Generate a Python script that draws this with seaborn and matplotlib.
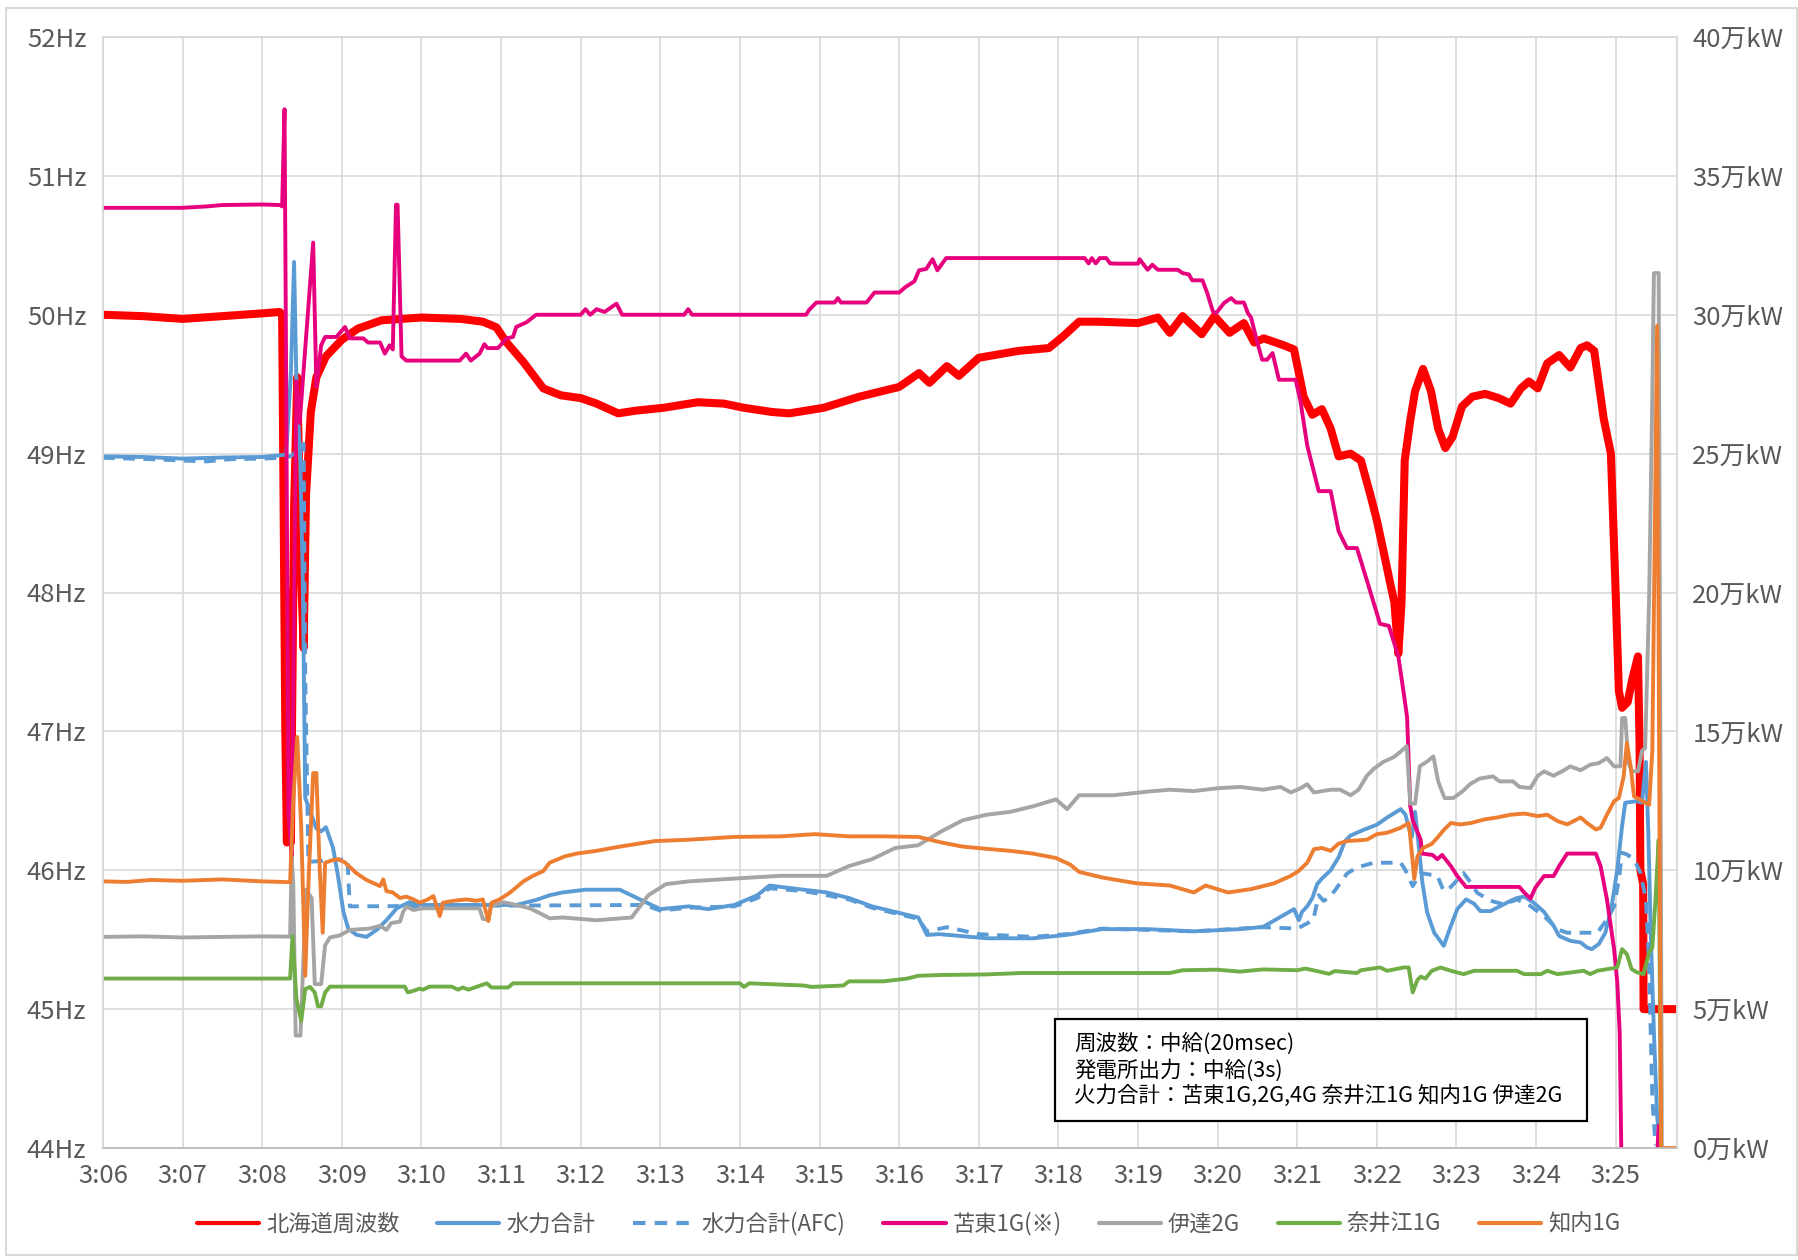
import matplotlib
matplotlib.use("Agg")
import matplotlib.pyplot as plt
import pandas as pd
import seaborn as sns
from matplotlib.patches import Rectangle

# time in minutes after 3:06, value in Hz (frequency) or 万kW (plant output)
freq = [(0, 50.0), (0.5, 49.99), (1.0, 49.97), (1.5, 49.99), (2.0, 50.01), (2.22, 50.02),
        (2.25, 50.0), (2.265, 48.9), (2.29, 47.0), (2.31, 46.2), (2.33, 48.0), (2.36, 46.2),
        (2.40, 48.6), (2.44, 49.55), (2.49, 48.1), (2.52, 47.6), (2.55, 48.7), (2.61, 49.3),
        (2.68, 49.55), (2.8, 49.7), (3.0, 49.82), (3.2, 49.9), (3.5, 49.96), (4.0, 49.98),
        (4.5, 49.97), (4.77, 49.95), (4.94, 49.91), (5.07, 49.8), (5.28, 49.66), (5.53, 49.47),
        (5.75, 49.42), (6.0, 49.4), (6.2, 49.36), (6.47, 49.29), (6.7, 49.31), (7.04, 49.33),
        (7.47, 49.37), (7.8, 49.36), (8.05, 49.33), (8.4, 49.3), (8.62, 49.29), (9.05, 49.33),
        (9.5, 49.41), (10.0, 49.48), (10.25, 49.58), (10.38, 49.51), (10.6, 49.63), (10.75, 49.56),
        (11.0, 49.69), (11.5, 49.74), (11.88, 49.76), (12.05, 49.84), (12.26, 49.95), (12.5, 49.95),
        (13.0, 49.94), (13.25, 49.98), (13.4, 49.87), (13.56, 49.99), (13.8, 49.86), (13.96, 49.99),
        (14.15, 49.87), (14.33, 49.94), (14.46, 49.8), (14.58, 49.83), (14.83, 49.78), (14.96, 49.75),
        (15.08, 49.41), (15.19, 49.28), (15.31, 49.32), (15.42, 49.18), (15.52, 48.98), (15.67, 49.0),
        (15.8, 48.95), (15.92, 48.7), (16.0, 48.52), (16.09, 48.28), (16.17, 48.06), (16.22, 47.93),
        (16.27, 47.56), (16.31, 47.93), (16.35, 48.95), (16.42, 49.24), (16.48, 49.45), (16.58, 49.61),
        (16.68, 49.45), (16.77, 49.18), (16.86, 49.04), (16.95, 49.12), (17.07, 49.34), (17.2, 49.41),
        (17.36, 49.43), (17.53, 49.4), (17.68, 49.36), (17.81, 49.47), (17.91, 49.52), (18.02, 49.47),
        (18.14, 49.65), (18.29, 49.71), (18.43, 49.62), (18.56, 49.76), (18.64, 49.78), (18.73, 49.74),
        (18.85, 49.25), (18.94, 49.0), (19.0, 47.99), (19.04, 47.29), (19.08, 47.17), (19.15, 47.21),
        (19.21, 47.38), (19.28, 47.54), (19.30, 46.9), (19.31, 46.0), (19.345, 45.9), (19.35, 45.0),
        (19.77, 45.0)]

hydro = [(0, 24.9), (0.5, 24.88), (1.0, 24.82), (1.5, 24.86), (2.0, 24.88), (2.25, 24.95), (2.3, 24.95),
         (2.36, 27.9), (2.40, 31.9), (2.43, 27.5), (2.475, 25.0), (2.51, 20.4), (2.54, 12.6), (2.58, 12.3),
         (2.68, 11.5), (2.74, 11.4), (2.8, 11.55), (2.89, 10.8), (2.95, 9.82), (3.02, 8.5), (3.08, 7.9),
         (3.18, 7.68), (3.31, 7.6), (3.44, 7.86), (3.56, 8.2), (3.69, 8.63), (3.85, 8.85), (4.02, 8.75),
         (5.19, 8.75), (5.44, 8.93), (5.61, 9.1), (5.77, 9.2), (6.06, 9.3), (6.49, 9.3), (6.78, 8.9),
         (7.0, 8.6), (7.36, 8.7), (7.6, 8.6), (7.93, 8.75), (8.22, 9.1), (8.37, 9.45), (8.51, 9.4),
         (8.8, 9.3), (9.09, 9.2), (9.37, 9.0), (9.66, 8.7), (9.95, 8.5), (10.24, 8.3), (10.35, 7.67),
         (10.5, 7.7), (11.1, 7.55), (11.68, 7.55), (12.1, 7.67), (12.55, 7.88), (13.12, 7.88),
         (13.7, 7.8), (14.28, 7.88), (14.57, 7.96), (14.79, 8.32), (14.96, 8.6), (15.02, 8.2),
         (15.06, 8.5), (15.125, 8.7), (15.19, 9.0), (15.25, 9.5), (15.31, 9.7), (15.42, 10.0),
         (15.52, 10.47), (15.6, 11.05), (15.67, 11.25), (15.83, 11.45), (16.0, 11.64), (16.13, 11.9),
         (16.3, 12.2), (16.36, 12.0), (16.4, 11.54), (16.44, 11.2), (16.48, 12.1), (16.52, 11.05),
         (16.57, 9.6), (16.63, 8.5), (16.72, 7.75), (16.84, 7.28), (16.93, 8.0), (17.01, 8.6),
         (17.12, 8.95), (17.22, 8.8), (17.3, 8.53), (17.43, 8.53), (17.55, 8.71), (17.68, 8.9),
         (17.76, 9.0), (17.85, 9.05), (17.97, 8.83), (18.1, 8.5), (18.22, 8.0), (18.29, 7.63),
         (18.43, 7.46), (18.56, 7.4), (18.64, 7.22), (18.7, 7.16), (18.79, 7.35), (18.87, 7.75),
         (18.95, 8.71), (19.02, 10.03), (19.08, 11.59), (19.12, 12.43), (19.27, 12.49), (19.33, 12.43),
         (19.38, 13.9), (19.41, 11.35), (19.44, 7.75), (19.48, 4.16), (19.52, 1.17), (19.56, 0.0)]

hydro_afc = [(0, 24.85), (0.6, 24.8), (1.0, 24.75), (1.3, 24.72), (1.6, 24.8), (2.0, 24.82),
             (2.25, 24.85), (2.35, 24.9), (2.45, 25.1), (2.52, 25.35), (2.54, 17.0), (2.57, 12.0),
             (2.58, 10.3), (3.07, 10.4), (3.1, 8.7), (6.8, 8.75), (7.0, 8.55), (7.36, 8.65),
             (7.93, 8.7), (8.22, 9.0), (8.37, 9.35), (8.8, 9.25), (9.09, 9.1), (9.37, 8.95),
             (9.66, 8.65), (9.95, 8.45), (10.24, 8.25), (10.35, 7.8), (10.6, 7.95), (11.0, 7.7),
             (11.68, 7.6), (12.1, 7.7), (12.55, 7.9), (13.12, 7.85), (13.7, 7.8), (14.28, 7.9),
             (14.57, 7.95), (15.0, 7.9), (15.2, 8.2), (15.27, 9.1), (15.33, 8.9), (15.4, 9.0),
             (15.48, 9.3), (15.625, 9.88), (15.75, 10.1), (15.96, 10.27), (16.3, 10.27), (16.36, 10.0),
             (16.45, 9.43), (16.55, 9.9), (16.76, 9.8), (16.84, 9.25), (16.93, 9.4), (17.09, 9.9),
             (17.18, 9.55), (17.26, 9.19), (17.43, 8.9), (17.6, 8.77), (17.76, 8.95), (17.93, 8.71),
             (18.1, 8.35), (18.27, 7.87), (18.39, 7.75), (18.77, 7.75), (18.89, 8.23), (18.98, 8.7),
             (19.04, 9.67), (19.08, 10.63), (19.14, 10.57), (19.23, 10.4), (19.31, 9.91), (19.38, 8.95),
             (19.42, 6.56), (19.44, 4.16), (19.46, 1.77), (19.5, 0.1)]

tomato1 = [(0, 33.85), (1.0, 33.85), (1.3, 33.9), (1.5, 33.95), (2.0, 33.97), (2.22, 33.95),
           (2.25, 33.9), (2.28, 37.4), (2.30, 28.0), (2.33, 12.0), (2.37, 10.5), (2.40, 20.0),
           (2.43, 27.6), (2.47, 26.1), (2.64, 32.6), (2.68, 27.4), (2.74, 28.9), (2.79, 29.2),
           (2.93, 29.2), (3.04, 29.56), (3.1, 29.15), (3.27, 29.15), (3.33, 29.0), (3.48, 29.0),
           (3.54, 28.6), (3.6, 28.9), (3.64, 28.75), (3.68, 33.96), (3.7, 33.96), (3.75, 28.5),
           (3.81, 28.35), (4.48, 28.35), (4.56, 28.6), (4.62, 28.35), (4.73, 28.6), (4.79, 28.94),
           (4.83, 28.8), (4.96, 28.8), (5.07, 29.15), (5.15, 29.2), (5.19, 29.56), (5.32, 29.73),
           (5.44, 30.0), (6.0, 30.0), (6.06, 30.2), (6.12, 30.0), (6.2, 30.2), (6.3, 30.1),
           (6.45, 30.4), (6.52, 30.0), (7.3, 30.0), (7.35, 30.2), (7.4, 30.0), (8.83, 30.0),
           (8.87, 30.18), (8.96, 30.44), (9.19, 30.44), (9.23, 30.6), (9.27, 30.44), (9.59, 30.44),
           (9.69, 30.8), (10.0, 30.8), (10.08, 31.0), (10.19, 31.2), (10.25, 31.6), (10.34, 31.65),
           (10.42, 32.0), (10.48, 31.6), (10.59, 32.04), (12.33, 32.04), (12.38, 31.85), (12.42, 32.04),
           (12.47, 31.85), (12.52, 32.04), (12.6, 32.04), (12.65, 31.85), (12.72, 31.84), (13.0, 31.84),
           (13.02, 32.0), (13.12, 31.62), (13.18, 31.8), (13.25, 31.62), (13.5, 31.62), (13.56, 31.5),
           (13.64, 31.45), (13.68, 31.24), (13.81, 31.24), (13.87, 30.78), (13.94, 30.12), (13.98, 30.05),
           (14.08, 30.42), (14.17, 30.6), (14.23, 30.44), (14.33, 30.44), (14.38, 30.06), (14.42, 29.9),
           (14.5, 28.98), (14.56, 28.38), (14.62, 28.38), (14.69, 28.62), (14.77, 27.66), (14.98, 27.66),
           (15.04, 26.9), (15.125, 25.3), (15.27, 23.65), (15.42, 23.65), (15.52, 22.2), (15.625, 21.6),
           (15.75, 21.6), (15.9, 20.2), (16.04, 18.87), (16.15, 18.8), (16.27, 17.7), (16.35, 16.13),
           (16.38, 15.5), (16.42, 12.3), (16.45, 11.8), (16.55, 11.1), (16.57, 10.6), (16.7, 10.55),
           (16.76, 10.4), (16.82, 10.55), (16.93, 10.15), (17.01, 9.79), (17.12, 9.4), (17.79, 9.4),
           (17.85, 9.2), (17.93, 8.98), (17.99, 9.37), (18.1, 9.79), (18.22, 9.79), (18.29, 10.15),
           (18.39, 10.6), (18.75, 10.6), (18.81, 10.15), (18.89, 8.95), (18.98, 7.16), (19.02, 5.96),
           (19.05, 4.16), (19.07, 0.0), (19.09, -3.0), (19.47, -3.0), (19.54, 0.8), (19.57, -3.0)]

date2 = [(0, 7.6), (0.5, 7.62), (1.0, 7.58), (1.5, 7.6), (2.0, 7.62), (2.35, 7.61), (2.37, 10.5),
         (2.39, 9.5), (2.42, 4.05), (2.48, 4.05), (2.52, 7.0), (2.55, 9.3), (2.62, 9.0), (2.66, 5.9),
         (2.74, 5.9), (2.79, 7.3), (2.85, 7.58), (2.97, 7.65), (3.1, 7.85), (3.35, 7.9), (3.48, 8.0),
         (3.56, 7.85), (3.62, 8.1), (3.73, 8.15), (3.77, 8.5), (3.81, 8.69), (3.9, 8.57), (4.02, 8.63),
         (4.73, 8.63), (4.77, 8.25), (4.84, 8.22), (4.87, 8.7), (5.03, 8.85), (5.19, 8.75), (5.36, 8.63),
         (5.49, 8.45), (5.61, 8.27), (5.77, 8.3), (6.2, 8.2), (6.64, 8.3), (6.85, 9.1), (7.07, 9.5),
         (7.36, 9.6), (7.93, 9.7), (8.51, 9.8), (9.09, 9.8), (9.37, 10.15), (9.66, 10.4), (9.95, 10.8),
         (10.24, 10.9), (10.53, 11.4), (10.8, 11.8), (11.1, 12.0), (11.39, 12.1), (11.68, 12.3),
         (11.97, 12.55), (12.11, 12.2), (12.26, 12.7), (12.69, 12.7), (13.12, 12.83), (13.4, 12.9),
         (13.7, 12.85), (13.99, 12.95), (14.28, 13.0), (14.57, 12.9), (14.79, 13.0), (14.92, 12.8),
         (15.04, 12.95), (15.125, 13.1), (15.21, 12.8), (15.42, 12.9), (15.54, 12.9), (15.67, 12.7),
         (15.77, 12.9), (15.875, 13.4), (15.96, 13.65), (16.08, 13.9), (16.21, 14.07), (16.29, 14.25),
         (16.375, 14.47), (16.42, 12.4), (16.48, 12.4), (16.54, 13.75), (16.625, 13.9), (16.71, 14.1),
         (16.77, 13.2), (16.85, 12.6), (16.96, 12.6), (17.08, 12.85), (17.17, 13.1), (17.29, 13.3),
         (17.46, 13.38), (17.54, 13.2), (17.71, 13.2), (17.79, 13.0), (17.93, 12.96), (18.02, 13.4),
         (18.1, 13.56), (18.22, 13.4), (18.35, 13.6), (18.43, 13.74), (18.56, 13.6), (18.68, 13.8),
         (18.79, 13.86), (18.89, 14.04), (18.98, 13.74), (19.06, 13.74), (19.08, 15.48), (19.12, 15.48),
         (19.16, 13.9), (19.2, 13.56), (19.28, 13.56), (19.33, 14.3), (19.37, 14.4), (19.42, 19.8),
         (19.46, 27.1), (19.48, 31.5), (19.54, 31.5), (19.56, 15.6), (19.58, 0.0)]

naie1 = [(0, 6.1), (2.35, 6.1), (2.38, 7.63), (2.43, 5.36), (2.49, 4.58), (2.54, 5.72), (2.6, 5.8),
         (2.66, 5.6), (2.7, 5.1), (2.74, 5.1), (2.79, 5.6), (2.85, 5.81), (3.79, 5.81), (3.83, 5.6),
         (3.9, 5.66), (3.98, 5.74), (4.02, 5.7), (4.1, 5.81), (4.38, 5.81), (4.46, 5.7), (4.52, 5.78),
         (4.59, 5.7), (4.73, 5.84), (4.82, 5.93), (4.88, 5.78), (5.09, 5.78), (5.15, 5.93), (8.0, 5.93),
         (8.05, 5.8), (8.12, 5.93), (8.8, 5.85), (8.9, 5.8), (9.3, 5.85), (9.37, 6.0), (9.8, 6.0),
         (10.1, 6.1), (10.24, 6.2), (10.53, 6.23), (11.1, 6.25), (11.53, 6.3), (13.4, 6.3), (13.56, 6.4),
         (13.99, 6.42), (14.28, 6.35), (14.57, 6.43), (15.0, 6.4), (15.1, 6.46), (15.2, 6.4),
         (15.4, 6.27), (15.47, 6.37), (15.75, 6.3), (15.8, 6.4), (16.04, 6.5), (16.13, 6.38),
         (16.34, 6.5), (16.4, 6.5), (16.45, 5.6), (16.51, 6.05), (16.55, 6.17), (16.61, 6.1),
         (16.69, 6.38), (16.8, 6.5), (16.93, 6.38), (17.09, 6.26), (17.22, 6.38), (17.76, 6.38),
         (17.85, 6.26), (18.06, 6.26), (18.14, 6.38), (18.27, 6.26), (18.6, 6.38), (18.68, 6.26),
         (18.77, 6.38), (19.02, 6.5), (19.08, 7.16), (19.14, 6.98), (19.2, 6.44), (19.27, 6.32),
         (19.35, 6.26), (19.42, 7.04), (19.46, 7.22), (19.5, 8.95), (19.54, 11.1), (19.57, 0.0)]

shiriuchi1 = [(0, 9.6), (0.3, 9.58), (0.6, 9.65), (1.0, 9.62), (1.5, 9.67), (2.0, 9.6), (2.35, 9.57),
              (2.39, 12.55), (2.44, 14.8), (2.49, 11.5), (2.54, 6.2), (2.58, 9.5), (2.64, 13.5),
              (2.68, 13.5), (2.72, 10.15), (2.76, 7.75), (2.79, 10.27), (2.87, 10.35), (2.95, 10.4),
              (3.04, 10.28), (3.18, 9.9), (3.31, 9.65), (3.48, 9.43), (3.52, 9.67), (3.56, 9.25),
              (3.64, 9.2), (3.73, 9.0), (3.81, 9.05), (3.9, 8.95), (3.98, 8.83), (4.08, 8.95),
              (4.15, 9.07), (4.23, 8.35), (4.27, 8.83), (4.4, 8.9), (4.56, 8.95), (4.69, 8.9),
              (4.77, 8.95), (4.84, 8.17), (4.88, 8.83), (4.98, 8.95), (5.11, 9.19), (5.28, 9.6),
              (5.4, 9.8), (5.53, 9.97), (5.61, 10.27), (5.8, 10.5), (5.95, 10.6), (6.2, 10.7),
              (6.49, 10.85), (6.93, 11.05), (7.36, 11.1), (7.93, 11.2), (8.51, 11.22), (8.94, 11.3),
              (9.37, 11.22), (9.8, 11.22), (10.24, 11.2), (10.53, 11.0), (10.8, 10.85), (11.1, 10.77),
              (11.39, 10.7), (11.68, 10.6), (11.97, 10.44), (12.15, 10.2), (12.26, 9.94), (12.55, 9.74),
              (12.98, 9.53), (13.4, 9.45), (13.7, 9.2), (13.85, 9.45), (14.13, 9.2), (14.42, 9.32),
              (14.71, 9.53), (14.92, 9.8), (15.02, 9.98), (15.125, 10.27), (15.21, 10.76), (15.31, 10.8),
              (15.42, 10.7), (15.52, 10.96), (15.625, 11.05), (15.875, 11.1), (16.0, 11.3), (16.13, 11.35),
              (16.3, 11.53), (16.4, 11.7), (16.42, 11.2), (16.47, 9.69), (16.51, 10.5), (16.58, 10.8),
              (16.69, 10.95), (16.76, 11.17), (16.84, 11.45), (16.93, 11.7), (17.05, 11.65), (17.18, 11.7),
              (17.35, 11.83), (17.51, 11.9), (17.68, 12.0), (17.85, 12.04), (17.93, 12.0), (18.02, 11.95),
              (18.14, 12.0), (18.27, 11.77), (18.39, 11.65), (18.56, 11.9), (18.64, 11.7), (18.75, 11.47),
              (18.81, 11.53), (18.89, 12.0), (18.98, 12.49), (19.04, 12.6), (19.1, 13.38), (19.14, 14.58),
              (19.19, 13.7), (19.23, 12.66), (19.33, 12.5), (19.42, 12.35), (19.46, 14.3), (19.52, 29.6),
              (19.57, 0.0), (19.77, 0.0)]

x_ticks = list(range(20))
x_labels = [f"3:{6 + m:02d}" for m in x_ticks]
hz_ticks = list(range(44, 53))
kw_ticks = list(range(0, 41, 5))

note_lines = ["周波数：中給(20msec)", "発電所出力：中給(3s)",
              "火力合計：苫東1G,2G,4G 奈井江1G 知内1G 伊達2G"]

series = [
    ("水力合計", hydro, "#5b9bd5", "-"),
    ("水力合計(AFC)", hydro_afc, "#5b9bd5", (0, (3.0, 2.2))),
    ("苫東1G(※)", tomato1, "#e6007e", "-"),
    ("伊達2G", date2, "#a5a5a5", "-"),
    ("奈井江1G", naie1, "#70ad47", "-"),
    ("知内1G", shiriuchi1, "#ed7d31", "-"),
]

sns.set_style("white")
plt.rcParams['font.family'] = ['Noto Sans CJK JP', 'DejaVu Sans']

W, H = 1799, 1260
fig = plt.figure(figsize=(W / 100, H / 100), dpi=100)
ax = fig.add_axes([103 / W, 1 - 1148 / H, (1677 - 103) / W, (1148 - 37) / H])
ax2 = ax.twinx()

df = pd.DataFrame(freq, columns=["t", "v"])
sns.lineplot(data=df, x="t", y="v", ax=ax, color="#ff0000", lw=5.8, estimator=None,
             sort=False, label="北海道周波数", legend=False)

for name, pts, col, ls in series:
    d = pd.DataFrame(pts, columns=["t", "v"])
    sns.lineplot(data=d, x="t", y="v", ax=ax2, color=col, lw=2.8, linestyle=ls,
                 estimator=None, sort=False, label=name, legend=False)

grid_col = "#d9d9d9"
text_col = "#595959"
ax.set_xlim(0, 19.77)
ax.set_ylim(44, 52)
ax2.set_ylim(0, 40)
ax.set_xticks(x_ticks)
ax.set_xticklabels(x_labels)
ax.set_yticks(hz_ticks)
ax.set_yticklabels([f"{v}Hz" for v in hz_ticks])
ax2.set_yticks(kw_ticks)
ax2.set_yticklabels([f"{v}万kW" for v in kw_ticks])
for a in (ax, ax2):
    a.set_xlabel("")
    a.set_ylabel("")
    for s in a.spines.values():
        s.set_color(grid_col)
        s.set_linewidth(1.2)
    a.spines["bottom"].set_color("#bfbfbf")
ax.grid(True, color=grid_col, lw=1.2)
ax2.grid(False)
ax.tick_params(axis="x", length=0, labelsize=18.5, colors=text_col, pad=11)
ax.tick_params(axis="y", length=0, labelsize=18.5, colors=text_col, pad=12)
ax2.tick_params(axis="y", length=0, labelsize=18.5, colors=text_col, pad=11)

handles = ax.get_lines() + ax2.get_lines()
labels = [h.get_label() for h in handles]
leg = fig.legend(handles, labels, loc="center", bbox_to_anchor=(0.505, 1 - 1224 / H), ncol=7,
                 frameon=False, fontsize=16, handlelength=2.8, handletextpad=0.3,
                 columnspacing=1.7, labelcolor=text_col)
for h in leg.get_lines():
    h.set_linewidth(3.0)

fig.add_artist(Rectangle((1055 / W, 1 - 1121 / H), 532 / W, 102 / H, transform=fig.transFigure,
                         facecolor="white", edgecolor="black", lw=1.6, zorder=5))
for i, line in enumerate(note_lines):
    fig.text(1074 / W, 1 - (1044 + i * 26) / H, line, fontsize=15.5, color="black",
             va="center", ha="left", zorder=6)

fig.add_artist(Rectangle((6 / W, 1 - 1255 / H), 1791 / W, 1247 / H, transform=fig.transFigure,
                         fill=False, edgecolor=grid_col, lw=1.5))

fig.savefig("out.png", dpi=100)
